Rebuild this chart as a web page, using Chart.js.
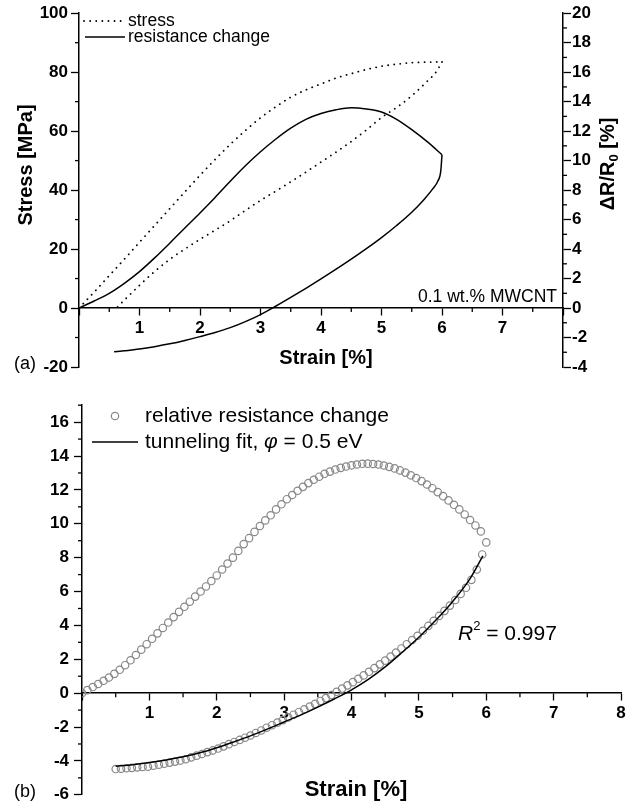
<!DOCTYPE html>
<html>
<head>
<meta charset="utf-8">
<script src="https://cdn.jsdelivr.net/npm/chart.js@4"></script>
<style>
  html, body { margin: 0; padding: 0; background: #fff; }
  #wrap { position: relative; width: 633px; height: 810px; }
  canvas { position: absolute; left: 0; }
  #chartA { top: 0; }
  #chartB { top: 390px; }
</style>
</head>
<body>
<div id="wrap">
  <canvas id="chartA" width="633" height="390"></canvas>
  <canvas id="chartB" width="633" height="420"></canvas>
</div>
<script>
const FONT = "'Liberation Sans', Arial, sans-serif";

// ---- panel (a): stress and resistance change vs strain ----
const strainLoadA = [0, 0.25, 0.5, 0.75, 1, 1.25, 1.5, 1.75, 2, 2.25, 2.5, 2.75, 3, 3.25, 3.5, 3.75, 4, 4.25, 4.5, 4.75, 5, 5.25, 5.5, 5.75, 6];
const stressLoad = [0, 5.4, 11, 16.6, 22.3, 28, 33.7, 39.4, 45, 50.4, 55.5, 60.2, 64.5, 68.2, 71.5, 74, 76, 78, 79.5, 80.9, 82, 82.7, 83.2, 83.4, 83.5];
const resLoad = [0, 0.48, 1.0, 1.68, 2.47, 3.4, 4.4, 5.43, 6.45, 7.5, 8.6, 9.65, 10.6, 11.45, 12.2, 12.8, 13.2, 13.45, 13.58, 13.5, 13.3, 12.8, 12.1, 11.3, 10.4];

const strainUnloadStress = [6, 5.9, 5.75, 5.5, 5.25, 5, 4.75, 4.5, 4.25, 4, 3.75, 3.5, 3.25, 3, 2.75, 2.5, 2.25, 2, 1.75, 1.5, 1.25, 1, 0.75, 0.62];
const stressUnload = [83.5, 80.0, 76.8, 72.0, 68.0, 64.6, 60.4, 56.5, 52.9, 49.5, 46.1, 42.8, 39.6, 36.5, 33.1, 29.6, 26.4, 23.3, 20.0, 16.5, 12.4, 7.7, 2.7, 0];

const strainUnloadRes = [6, 5.98, 5.93, 5.85, 5.7, 5.5, 5.25, 5, 4.75, 4.5, 4.25, 4, 3.75, 3.5, 3.25, 3, 2.75, 2.5, 2.25, 2, 1.75, 1.5, 1.25, 1, 0.75, 0.58];
const resUnload = [10.4, 9.3, 8.6, 8.1, 7.35, 6.5, 5.6, 4.78, 4.03, 3.32, 2.64, 1.98, 1.34, 0.72, 0.12, -0.45, -0.92, -1.33, -1.66, -1.94, -2.2, -2.43, -2.62, -2.78, -2.9, -2.97];

// ---- panel (b): relative resistance change with tunneling fit ----
const strainLoadB = [0, 0.08, 0.16, 0.24, 0.32, 0.4, 0.48, 0.56, 0.64, 0.72, 0.8, 0.88, 0.96, 1.04, 1.12, 1.2, 1.28, 1.36, 1.44, 1.52, 1.6, 1.68, 1.76, 1.84, 1.92, 2, 2.08, 2.16, 2.24, 2.32, 2.4, 2.48, 2.56, 2.64, 2.72, 2.8, 2.88, 2.96, 3.04, 3.12, 3.2, 3.28, 3.36, 3.44, 3.52, 3.6, 3.68, 3.76, 3.84, 3.92, 4, 4.08, 4.16, 4.24, 4.32, 4.4, 4.48, 4.56, 4.64, 4.72, 4.8, 4.88, 4.96, 5.04, 5.12, 5.2, 5.28, 5.36, 5.44, 5.52, 5.6, 5.68, 5.76, 5.84, 5.92, 6];
const resLoadB = [0, 0.18, 0.36, 0.54, 0.73, 0.92, 1.14, 1.38, 1.65, 1.94, 2.25, 2.57, 2.89, 3.21, 3.53, 3.85, 4.17, 4.49, 4.8, 5.1, 5.4, 5.7, 6, 6.3, 6.62, 6.95, 7.3, 7.65, 8, 8.4, 8.8, 9.15, 9.52, 9.87, 10.2, 10.5, 10.85, 11.15, 11.45, 11.7, 11.95, 12.18, 12.4, 12.6, 12.78, 12.95, 13.08, 13.2, 13.3, 13.38, 13.45, 13.5, 13.54, 13.55, 13.53, 13.5, 13.44, 13.36, 13.27, 13.15, 13.02, 12.86, 12.7, 12.52, 12.32, 12.1, 11.87, 11.63, 11.38, 11.12, 10.85, 10.55, 10.22, 9.9, 9.55, 8.9];
const strainUnloadB = [5.94, 5.86, 5.78, 5.7, 5.62, 5.54, 5.46, 5.38, 5.3, 5.22, 5.14, 5.06, 4.98, 4.9, 4.82, 4.74, 4.66, 4.58, 4.5, 4.42, 4.34, 4.26, 4.18, 4.1, 4.02, 3.94, 3.86, 3.78, 3.7, 3.62, 3.54, 3.46, 3.38, 3.3, 3.22, 3.14, 3.06, 2.98, 2.9, 2.82, 2.74, 2.66, 2.58, 2.5, 2.42, 2.34, 2.26, 2.18, 2.1, 2.02, 1.94, 1.86, 1.78, 1.7, 1.62, 1.54, 1.46, 1.38, 1.3, 1.22, 1.14, 1.06, 0.98, 0.9, 0.82, 0.74, 0.66, 0.58, 0.5];
const resUnloadB = [8.19, 7.3, 6.69, 6.22, 5.86, 5.5, 5.17, 4.86, 4.56, 4.27, 3.97, 3.68, 3.39, 3.14, 2.89, 2.64, 2.4, 2.16, 1.92, 1.7, 1.48, 1.26, 1.05, 0.85, 0.65, 0.46, 0.27, 0.08, -0.11, -0.29, -0.46, -0.63, -0.79, -0.95, -1.11, -1.27, -1.43, -1.59, -1.74, -1.89, -2.04, -2.2, -2.35, -2.5, -2.63, -2.76, -2.88, -3.01, -3.14, -3.27, -3.38, -3.48, -3.59, -3.69, -3.79, -3.9, -3.98, -4.04, -4.1, -4.16, -4.22, -4.28, -4.34, -4.36, -4.38, -4.41, -4.43, -4.46, -4.48];
const fitStrain = [0.5, 0.75, 1, 1.25, 1.5, 1.75, 2, 2.25, 2.5, 2.75, 3, 3.25, 3.5, 3.75, 4, 4.25, 4.5, 4.75, 5, 5.25, 5.5, 5.75, 5.95];
const fitR = [-4.32, -4.22, -4.1, -3.95, -3.76, -3.52, -3.22, -2.88, -2.52, -2.12, -1.7, -1.28, -0.82, -0.33, 0.2, 0.82, 1.55, 2.4, 3.3, 4.3, 5.4, 6.7, 8.1];

// tick positions
const minorStressTicks = [-10, 10, 30, 50, 70, 90];
const minorResTicksA = [-3, -1, 1, 3, 5, 7, 9, 11, 13, 15, 17, 19];
const minorStrainTicks = [0.5, 1.5, 2.5, 3.5, 4.5, 5.5, 6.5, 7.5];
const minorResTicksB = [-5, -3, -1, 1, 3, 5, 7, 9, 11, 13, 15, 17];

const pts = (xs, ys) => xs.map((x, i) => ({ x: x, y: ys[i] }));
const f = (size, weight, style) => (style || '') + ' ' + (weight || '') + ' ' + size + 'px ' + FONT;

function drawRich(ctx, segs, x, y, align, rot) {
    ctx.save();
    ctx.translate(x, y);
    if (rot) ctx.rotate(rot);
    let w = 0;
    segs.forEach(s => { ctx.font = s.font; w += ctx.measureText(s.t).width; });
    let cx = align === 'center' ? -w / 2 : (align === 'right' ? -w : 0);
    ctx.textAlign = 'left';
    ctx.textBaseline = 'middle';
    ctx.fillStyle = '#000';
    segs.forEach(s => {
        ctx.font = s.font;
        ctx.fillText(s.t, cx, s.dy || 0);
        cx += ctx.measureText(s.t).width;
    });
    ctx.restore();
}

// short ticks between the labelled ones
const minorTicks = {
    id: 'minorTicks',
    afterDraw(chart, args, opts) {
        const ctx = chart.ctx;
        const area = chart.chartArea;
        ctx.save();
        ctx.strokeStyle = '#000';
        ctx.lineWidth = 1.3;
        opts.list.forEach(m => {
            const s = chart.scales[m.scale];
            m.values.forEach(v => {
                const p = s.getPixelForValue(v);
                ctx.beginPath();
                if (s.axis === 'x') {
                    const y0 = chart.scales[m.base].getPixelForValue(0);
                    ctx.moveTo(p, y0);
                    ctx.lineTo(p, y0 + m.len);
                } else if (s.position === 'left') {
                    ctx.moveTo(area.left, p);
                    ctx.lineTo(area.left - m.len, p);
                } else {
                    ctx.moveTo(area.right, p);
                    ctx.lineTo(area.right + m.len, p);
                }
                ctx.stroke();
            });
        });
        ctx.restore();
    }
};

// titles, notes and the legend inside the plot
const notes = {
    id: 'notes',
    afterDraw(chart, args, opts) {
        const ctx = chart.ctx;
        opts.texts.forEach(t => drawRich(ctx, t.segs, t.x, t.y, t.align, t.rot));
        opts.legend.forEach(l => {
            const ds = chart.data.datasets[l.dataset];
            ctx.save();
            if (l.kind === 'line') {
                ctx.strokeStyle = ds.borderColor;
                ctx.lineWidth = ds.borderWidth;
                ctx.lineCap = ds.borderCapStyle || 'butt';
                ctx.setLineDash(ds.borderDash || []);
                ctx.beginPath();
                ctx.moveTo(l.x1, l.y);
                ctx.lineTo(l.x2, l.y);
                ctx.stroke();
            } else {
                ctx.strokeStyle = ds.pointBorderColor;
                ctx.lineWidth = ds.pointBorderWidth;
                ctx.beginPath();
                ctx.arc((l.x1 + l.x2) / 2, l.y, ds.pointRadius, 0, Math.PI * 2);
                ctx.stroke();
            }
            ctx.restore();
            drawRich(ctx, l.segs || [{ t: ds.label, font: l.font }], l.tx, l.y, 'left', 0);
        });
    }
};

const tickFont = { family: FONT, size: 17, weight: 'bold' };
const axisGrid = (len) => ({ drawOnChartArea: false, drawTicks: true, tickLength: len, tickColor: '#000', tickWidth: 1.3 });
const axisBorder = { display: true, color: '#000', width: 1.5 };

// ---------------- chart (a) ----------------
const dotted = { borderColor: '#000', borderWidth: 1.8, borderDash: [0.1, 6], borderCapStyle: 'round', pointRadius: 0, cubicInterpolationMode: 'monotone', yAxisID: 'y' };
const solid = { borderColor: '#000', borderWidth: 1.5, pointRadius: 0, cubicInterpolationMode: 'monotone', yAxisID: 'y2' };

new Chart(document.getElementById('chartA'), {
    type: 'line',
    data: {
        datasets: [
            Object.assign({ label: 'stress', data: pts(strainLoadA, stressLoad) }, dotted),
            Object.assign({ label: 'stress', data: pts(strainUnloadStress, stressUnload) }, dotted),
            Object.assign({ label: 'resistance change', data: pts(strainLoadA, resLoad) }, solid),
            Object.assign({ label: 'resistance change', data: pts(strainUnloadRes, resUnload) }, solid)
        ]
    },
    options: {
        responsive: false,
        animation: false,
        layout: { padding: { top: 12, bottom: 23, left: 0, right: 0 } },
        plugins: {
            legend: { display: false },
            tooltip: { enabled: false },
            minorTicks: {
                list: [
                    { scale: 'y', values: minorStressTicks, len: 4 },
                    { scale: 'y2', values: minorResTicksA, len: 4 },
                    { scale: 'x', base: 'y', values: minorStrainTicks, len: 4 }
                ]
            },
            notes: {
                texts: [
                    { segs: [{ t: 'Stress [MPa]', font: f(20, 'bold') }], x: 26, y: 165, align: 'center', rot: -Math.PI / 2 },
                    { segs: [{ t: 'ΔR/R', font: f(20, 'bold') }, { t: '0', font: f(13, 'bold'), dy: 6 }, { t: ' [%]', font: f(20, 'bold') }], x: 608, y: 164, align: 'center', rot: -Math.PI / 2 },
                    { segs: [{ t: 'Strain [%]', font: f(20, 'bold') }], x: 326, y: 358, align: 'center' },
                    { segs: [{ t: '0.1 wt.% MWCNT', font: f(17.5) }], x: 557, y: 297, align: 'right' },
                    { segs: [{ t: '(a)', font: f(18) }], x: 14, y: 364, align: 'left' }
                ],
                legend: [
                    { dataset: 0, kind: 'line', x1: 84, x2: 125, y: 21, tx: 128, font: f(17.5) },
                    { dataset: 2, kind: 'line', x1: 85, x2: 125, y: 37, tx: 128, font: f(17.5) }
                ]
            }
        },
        scales: {
            x: {
                type: 'linear', min: 0, max: 8, position: { y: 0 },
                ticks: { stepSize: 1, font: tickFont, color: '#000', padding: 3, maxRotation: 0,
                    callback: v => (v > 0 && v < 8) ? v : '' },
                grid: axisGrid(7),
                border: axisBorder
            },
            y: {
                position: 'left', min: -20, max: 100,
                ticks: { stepSize: 20, font: tickFont, color: '#000', padding: 3 },
                grid: axisGrid(8),
                border: axisBorder,
                afterFit: s => { s.width = 79; }
            },
            y2: {
                position: 'right', min: -4, max: 20,
                ticks: { stepSize: 2, font: tickFont, color: '#000', padding: 1 },
                grid: axisGrid(8),
                border: axisBorder,
                afterFit: s => { s.width = 70; }
            }
        }
    },
    plugins: [minorTicks, notes]
});

// ---------------- chart (b) ----------------
new Chart(document.getElementById('chartB'), {
    type: 'scatter',
    data: {
        datasets: [
            {
                label: 'relative resistance change',
                data: pts(strainLoadB.concat(strainUnloadB), resLoadB.concat(resUnloadB)),
                pointStyle: 'circle', pointRadius: 3.7, pointBorderWidth: 1.2,
                pointBorderColor: '#888888', pointBackgroundColor: 'rgba(255,255,255,0)',
                showLine: false, order: 2
            },
            {
                label: 'tunneling fit',
                data: pts(fitStrain, fitR),
                showLine: true, borderColor: '#000', borderWidth: 1.5, pointRadius: 0,
                cubicInterpolationMode: 'monotone', order: 1
            }
        ]
    },
    options: {
        responsive: false,
        animation: false,
        layout: { padding: { top: 14, bottom: 13, left: 0, right: 12 } },
        plugins: {
            legend: { display: false },
            tooltip: { enabled: false },
            minorTicks: {
                list: [
                    { scale: 'y', values: minorResTicksB, len: 4 },
                    { scale: 'x', base: 'y', values: minorStrainTicks, len: 4 }
                ]
            },
            notes: {
                texts: [
                    { segs: [{ t: 'Δ', font: f(22, 'bold') }, { t: 'R', font: f(22, 'bold', 'italic') }, { t: '/', font: f(22, 'bold') }, { t: 'R', font: f(22, 'bold', 'italic') }, { t: '0', font: f(14, 'bold'), dy: 7 }, { t: ' [%]', font: f(22, 'bold') }], x: 37, y: 578, align: 'center', rot: -Math.PI / 2 },
                    { segs: [{ t: 'Strain [%]', font: f(22, 'bold') }], x: 356, y: 400, align: 'center' },
                    { segs: [{ t: '(b)', font: f(18) }], x: 14, y: 402, align: 'left' },
                    { segs: [{ t: 'R', font: f(21, '', 'italic') }, { t: '2', font: f(13), dy: -8 }, { t: ' = 0.997', font: f(21) }], x: 458, y: 244, align: 'left' }
                ],
                legend: [
                    { dataset: 0, kind: 'circle', x1: 110, x2: 120, y: 26, tx: 145, font: f(21) },
                    { dataset: 1, kind: 'line', x1: 92, x2: 138, y: 52, tx: 145,
                      segs: [{ t: 'tunneling fit, ', font: f(21) }, { t: 'φ', font: f(21, '', 'italic') }, { t: ' = 0.5 eV', font: f(21) }] }
                ]
            }
        },
        scales: {
            x: {
                type: 'linear', min: 0, max: 8, position: { y: 0 },
                ticks: { stepSize: 1, font: tickFont, color: '#000', padding: 3, maxRotation: 0,
                    callback: v => v > 0 ? v : '' },
                grid: axisGrid(7),
                border: axisBorder
            },
            y: {
                position: 'left', min: -6, max: 17,
                ticks: { stepSize: 2, includeBounds: false, font: tickFont, color: '#000', padding: 5 },
                grid: axisGrid(8),
                border: axisBorder,
                afterFit: s => { s.width = 82; }
            }
        }
    },
    plugins: [minorTicks, notes]
});
</script>
</body>
</html>
